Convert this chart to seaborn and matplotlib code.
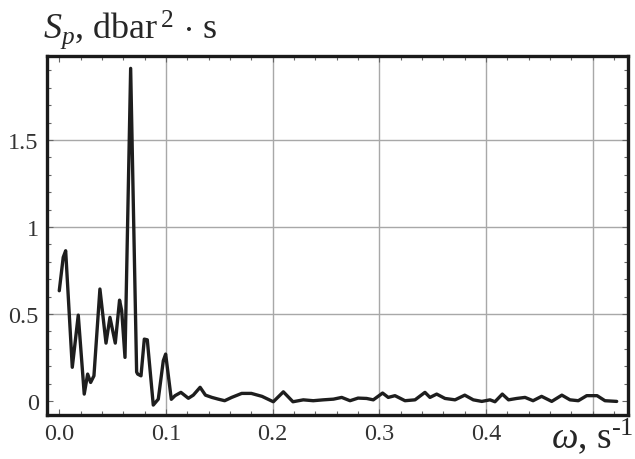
import pandas as pd
import seaborn as sns
import matplotlib.pyplot as plt
from matplotlib.ticker import MultipleLocator, FixedLocator

# Spectrum
freq = [0.000, 0.0037, 0.006, 0.0122, 0.0178, 0.0234, 0.0266, 0.0294, 0.0325,
        0.0381, 0.0438, 0.0475, 0.0525, 0.0565, 0.0585, 0.0616, 0.0669, 0.0725,
        0.0735, 0.0766, 0.0797, 0.0825, 0.0881, 0.0928, 0.0975, 0.0997, 0.105,
        0.1085, 0.114, 0.121, 0.1256, 0.132, 0.137, 0.143, 0.149, 0.155, 0.1616,
        0.171, 0.180, 0.190, 0.2006, 0.210, 0.219, 0.2287, 0.238, 0.2474, 0.257,
        0.2647, 0.2725, 0.280, 0.288, 0.2943, 0.303, 0.3083, 0.3146, 0.324,
        0.3334, 0.3427, 0.3474, 0.3537, 0.3615, 0.3709, 0.380, 0.388, 0.396,
        0.4037, 0.4083, 0.4152, 0.421, 0.4287, 0.4365, 0.444, 0.452, 0.4615,
        0.471, 0.4786, 0.4864, 0.4943, 0.504, 0.5114, 0.5224]
sp = [0.634, 0.826, 0.864, 0.194, 0.494, 0.040, 0.155, 0.107, 0.145,
      0.644, 0.333, 0.481, 0.333, 0.580, 0.520, 0.251, 1.912, 0.167,
      0.155, 0.145, 0.356, 0.352, -0.023, 0.011, 0.232, 0.270, 0.010,
      0.031, 0.050, 0.016, 0.034, 0.079, 0.034, 0.021, 0.011, 0.002, 0.021,
      0.044, 0.044, 0.027, -0.004, 0.053, -0.004, 0.007, 0.002, 0.007, 0.011,
      0.021, 0.002, 0.017, 0.015, 0.007, 0.046, 0.021, 0.031, 0.002,
      0.007, 0.050, 0.021, 0.040, 0.015, 0.007, 0.034, 0.007, -0.002,
      0.007, -0.004, 0.040, 0.007, 0.015, 0.021, 0.002, 0.027, -0.002,
      0.034, 0.007, 0.002, 0.031, 0.031, 0.002, -0.002]

xticks = [0.0, 0.1, 0.2, 0.3, 0.4]
xtick_labels = ['0.0', '0.1', '0.2', '0.3', '0.4']
yticks = [0, 0.5, 1, 1.5]
ytick_labels = ['0', '0.5', '1', '1.5']

df = pd.DataFrame({'w': freq, 'S': sp})

sns.set_style('ticks')
plt.rcParams['font.family'] = ['Liberation Serif', 'DejaVu Serif']
plt.rcParams['mathtext.fontset'] = 'custom'
plt.rcParams['mathtext.rm'] = 'Liberation Serif'
plt.rcParams['mathtext.it'] = 'Liberation Serif:italic'

fig = plt.figure(figsize=(6.35, 4.6), dpi=100)
ax = fig.add_axes([0.074, 0.0957, 0.915, 0.7803])

# grid
for gx in [0.1, 0.2, 0.3, 0.4, 0.5]:
    ax.axvline(gx, color='#a8a8a8', lw=1.0, zorder=0)
for gy in [0.5, 1.0, 1.5]:
    ax.axhline(gy, color='#a8a8a8', lw=1.0, zorder=0)

sns.lineplot(data=df, x='w', y='S', ax=ax, color='#1e1e1e', lw=2.4,
             estimator=None, sort=False)

ax.set_xlim(-0.0115, 0.533)
ax.set_ylim(-0.08, 1.983)
ax.xaxis.set_major_locator(FixedLocator(xticks))
ax.set_xticklabels(xtick_labels)
ax.yaxis.set_major_locator(FixedLocator(yticks))
ax.set_yticklabels(ytick_labels)
ax.xaxis.set_minor_locator(MultipleLocator(0.02))
ax.yaxis.set_minor_locator(MultipleLocator(0.1))
ax.tick_params(which='both', direction='in', top=True, right=True,
               color='#666666', width=0.8)
ax.tick_params(which='major', length=4, labelsize=17.5, pad=6,
               labelcolor='#333333')
ax.tick_params(which='minor', length=3)
ax.set_xlabel('')
ax.set_ylabel('')
for s in ax.spines.values():
    s.set_linewidth(2.4)
    s.set_color('#1a1a1a')

fig.text(0.068, 0.915, r'$S_p$, dbar$^{\,2}\,\cdot\,$s', fontsize=26,
         ha='left', va='baseline')
fig.text(0.997, 0.025, r'$\omega$, s$^{\mathrm{‐1}}$', fontsize=27,
         ha='right', va='baseline')

plt.savefig('out.png', dpi=100)
